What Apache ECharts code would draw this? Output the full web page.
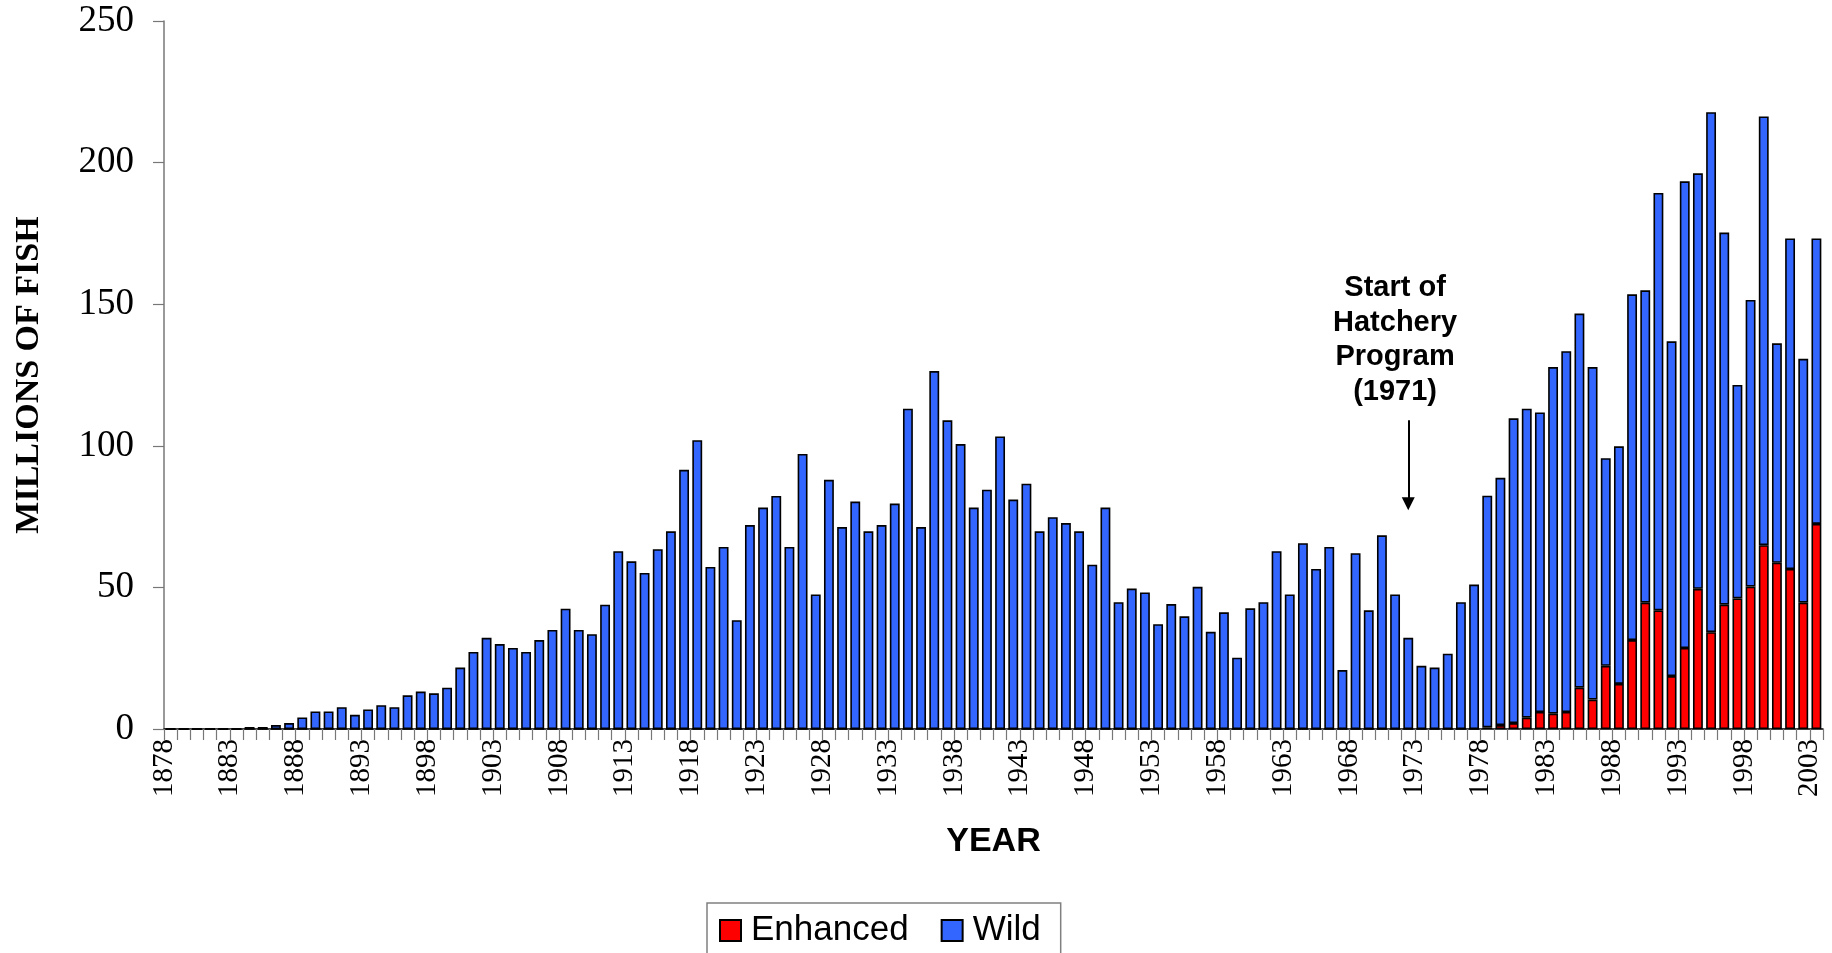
<!DOCTYPE html>
<html>
<head>
<meta charset="utf-8">
<script src="https://cdn.jsdelivr.net/npm/echarts@6/dist/echarts.min.js"></script>
<style>
  html, body { margin: 0; padding: 0; background: #fff; }
  #chart { width: 1832px; height: 953px; }
</style>
</head>
<body>
<div id="chart"></div>
<script>
// categories: one per year
var firstYear = 1878;
var lastYear = 2003;
var years = [];
for (var y = firstYear; y <= lastYear; y++) years.push(String(y));

// wild fish, millions (1878 - 2003)
var wild = [
  0, 0, 0, 0, 0, 0,
  0.7, 0.7, 1.4, 2.1, 4.1, 6.2, 6.2, 7.7, 5.0, 6.9,
  8.4, 7.7, 11.9, 13.2, 12.6, 14.6, 21.7, 27.2, 32.2, 30.0,
  28.6, 27.2, 31.4, 35.0, 42.5, 35.0, 33.5, 43.9, 62.8, 59.2,
  55.1, 63.5, 69.8, 91.5, 102.0, 57.2, 64.3, 38.4, 72.0, 78.2,
  82.3, 64.3, 97.1, 47.5, 88.0, 71.3, 80.3, 69.8, 72.0, 79.6,
  113.1, 71.3, 126.4, 109.0, 100.6, 78.2, 84.5, 103.3, 81.0, 86.6,
  69.8, 74.8, 72.7, 69.8, 58.0, 78.2, 44.8, 49.6, 48.2, 37.0,
  44.1, 39.8, 50.2, 34.3, 41.2, 25.2, 42.6, 44.8, 62.8, 47.5,
  65.6, 56.5, 64.3, 20.8, 62.1, 41.9, 68.4, 47.5, 32.2, 22.3,
  21.7, 26.6, 44.8, 51.0,
  81.8, 87.3, 107.6, 109.1, 105.8, 122.4, 127.4, 132.1, 117.4, 73.3,
  83.9, 122.1, 110.3, 147.4, 118.2, 164.8, 146.7, 183.6, 131.4, 75.4,
  101.2, 151.4, 77.5, 116.7, 86.1, 100.8
];

// hatchery (enhanced) fish, millions, from 1978 on
var enhancedStart = '1978';
var enhanced = [
  0.6, 1.4, 2.1, 4.0, 6.0, 5.4, 6.0, 14.6, 10.4, 22.3,
  15.9, 31.4, 44.6, 41.9, 18.7, 28.6, 49.5, 34.2, 43.9, 46.1,
  50.3, 64.9, 58.7, 56.5, 44.6, 72.4
];

// annotation
var noteYear = '1971';
var arrowYear = '1972';
var arrowTop = 109;
var arrowEnd = 79.5;
var noteAt = 113;

var startIdx = years.indexOf(enhancedStart);
var enhancedSeries = years.map(function (yr, i) {
  return i >= startIdx ? enhanced[i - startIdx] : 0;
});

var chart = echarts.init(document.getElementById('chart'));

chart.setOption({
  animation: false,
  backgroundColor: '#fff',
  grid: { left: 164, right: 9, top: 21, bottom: 224 },
  legend: {
    data: ['Enhanced', 'Wild'],
    left: 707,
    top: 903,
    icon: 'rect',
    itemWidth: 21,
    itemHeight: 21,
    itemGap: 32,
    padding: [10, 20, 20, 12],
    borderColor: '#808080',
    borderWidth: 1.5,
    textStyle: { fontFamily: 'Liberation Sans', fontSize: 35, color: '#000', padding: [0, 0, 0, 5] }
  },
  xAxis: [
    {
      type: 'category',
      data: years,
      position: 'bottom',
      boundaryGap: true,
      axisLine: { lineStyle: { color: '#000', width: 1.5 } },
      axisTick: { show: true, interval: 0, length: 11, lineStyle: { color: '#777', width: 1.2 } },
      axisLabel: { show: false },
      splitLine: { show: false },
      name: 'YEAR',
      nameLocation: 'middle',
      nameGap: 96,
      nameTextStyle: { fontFamily: 'Liberation Sans', fontWeight: 'bold', fontSize: 34, color: '#000' }
    },
    {
      // tick labels sit on the category boundaries
      type: 'value',
      position: 'bottom',
      min: 0,
      max: years.length,
      interval: 5,
      axisLine: { show: false },
      axisTick: { show: false },
      splitLine: { show: false },
      axisLabel: {
        rotate: 90,
        margin: 10,
        fontFamily: 'Liberation Serif',
        fontSize: 29,
        color: '#000',
        formatter: function (v) { return years[v] || ''; }
      }
    }
  ],
  yAxis: {
    type: 'value',
    min: 0,
    max: 250,
    interval: 50,
    axisLine: { show: true, lineStyle: { color: '#777', width: 1.5 } },
    axisTick: { show: true, length: 11, lineStyle: { color: '#777', width: 1.2 } },
    splitLine: { show: false },
    axisLabel: { fontFamily: 'Liberation Serif', fontSize: 37, color: '#000', margin: 30 },
    name: 'MILLIONS OF FISH',
    nameLocation: 'middle',
    nameGap: 118,
    nameRotate: 90,
    nameTextStyle: { fontFamily: 'Liberation Serif', fontWeight: 'bold', fontSize: 34, color: '#000' }
  },
  series: [
    {
      name: 'Enhanced',
      type: 'bar',
      stack: 'fish',
      barCategoryGap: '25%',
      data: enhancedSeries,
      itemStyle: { color: '#FF0000', borderColor: '#000', borderWidth: 1.6 }
    },
    {
      name: 'Wild',
      type: 'bar',
      stack: 'fish',
      barCategoryGap: '25%',
      data: wild,
      itemStyle: { color: '#3366FF', borderColor: '#000', borderWidth: 1.6 },
      markLine: {
        silent: true,
        symbol: ['none', 'triangle'],
        symbolSize: [13, 13],
        label: { show: false },
        lineStyle: { color: '#000', width: 2, type: 'solid' },
        data: [[{ coord: [arrowYear, arrowTop] }, { coord: [arrowYear, arrowEnd] }]]
      },
      markPoint: {
        silent: true,
        symbol: 'circle',
        symbolSize: 0,
        data: [{ coord: [noteYear, noteAt] }],
        label: {
          show: true,
          position: 'top',
          distance: 0,
          formatter: 'Start of\nHatchery\nProgram\n(1971)',
          align: 'center',
          fontFamily: 'Liberation Sans',
          fontWeight: 'bold',
          fontSize: 29,
          lineHeight: 34.5,
          color: '#000'
        }
      }
    }
  ]
});
</script>
</body>
</html>
